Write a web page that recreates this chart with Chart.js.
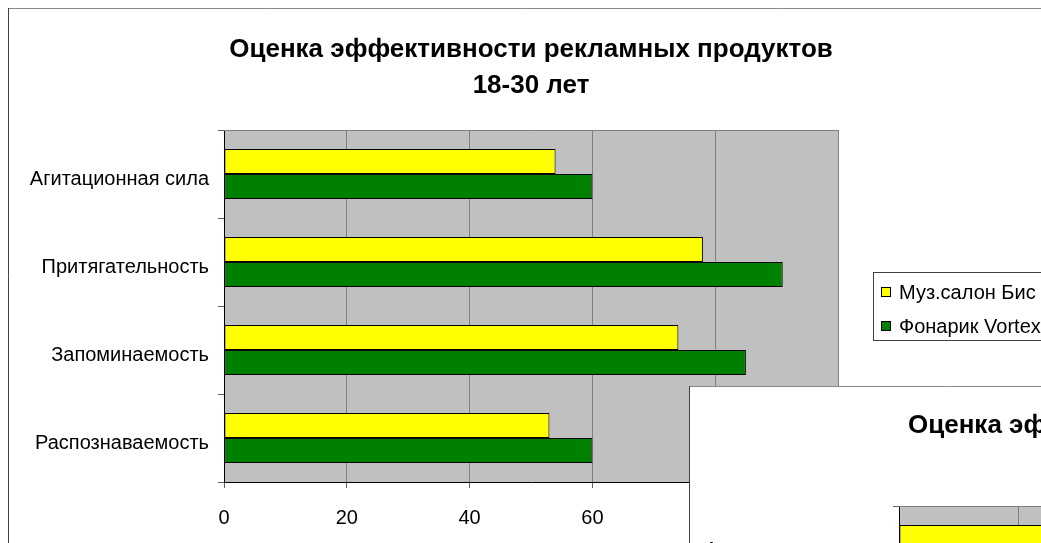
<!DOCTYPE html>
<html>
<head>
<meta charset="utf-8">
<script src="https://cdn.jsdelivr.net/npm/chart.js@4/dist/chart.umd.min.js"></script>
<style>
  html, body { margin: 0; padding: 0; background: #fff; overflow: hidden; width: 1041px; height: 543px; }
  #wrap { position: relative; width: 1041px; height: 543px; overflow: hidden; }
  #c1 { position: absolute; left: 0; top: 0; }
  #c2 { position: absolute; left: 681px; top: 378px; z-index: 2; }
</style>
</head>
<body>
<div id="wrap">
  <canvas id="c1" width="1041" height="543"></canvas>
  <canvas id="c2" width="1041" height="543"></canvas>
</div>
<script>
// ---- data (main chart) ----
const categories = ['Агитационная сила', 'Притягательность', 'Запоминаемость', 'Распознаваемость'];
const seriesNames = ['Муз.салон Бис', 'Фонарик Vortex'];
const musSalonValues = [54, 78, 74, 53];
const fonarikValues = [60, 91, 85, 60];
const titleLines = ['Оценка эффективности рекламных продуктов', '18-30 лет'];
const axisMin = 0;
const axisMax = 100;
const axisStep = 20;

// ---- data (overlapping second chart, only partly visible) ----
const overlayTitle = 'Оценка эффективности рекламных продуктов';
const overlayMusSalonValues = [62, 75, 70, 55];
const overlayFonarikValues = [58, 88, 80, 62];

const seriesColors = ['#ffff00', '#008000'];
const FONT = '"Liberation Sans", Arial, sans-serif';
Chart.defaults.font.family = FONT;
Chart.defaults.color = '#000';

function framePlugin(fillWhole) {
  return {
    id: 'frameBg',
    beforeDraw(chart) {
      const ctx = chart.ctx, W = chart.width, H = chart.height, a = chart.chartArea;
      ctx.save();
      ctx.clearRect(0, 0, W, H);
      if (fillWhole) { ctx.fillStyle = '#fff'; ctx.fillRect(0, 0, W, H); }
      ctx.fillStyle = '#fff';
      ctx.fillRect(8, 8, W - 8, H - 8);
      ctx.lineWidth = 1;
      ctx.strokeStyle = '#8a8a8a';
      ctx.beginPath(); ctx.moveTo(8, 8.5); ctx.lineTo(W, 8.5); ctx.stroke();
      ctx.strokeStyle = '#404040';
      ctx.beginPath(); ctx.moveTo(8.5, 8); ctx.lineTo(8.5, H); ctx.stroke();
      // plot area
      ctx.fillStyle = '#c0c0c0';
      ctx.fillRect(a.left, a.top, a.right - a.left, a.bottom - a.top);
      ctx.restore();
    },
    beforeDatasetsDraw(chart) {
      const ctx = chart.ctx, a = chart.chartArea;
      ctx.save();
      ctx.strokeStyle = '#808080';
      ctx.lineWidth = 1;
      ctx.beginPath(); ctx.moveTo(a.left, a.top + 0.5); ctx.lineTo(a.right + 1, a.top + 0.5); ctx.stroke();
      ctx.restore();
    }
  };
}

const legendPlugin = {
  id: 'boxLegend',
  afterDraw(chart) {
    const ctx = chart.ctx;
    ctx.save();
    ctx.fillStyle = '#fff';
    ctx.fillRect(873, 272, 220, 68);
    ctx.strokeStyle = '#404040';
    ctx.lineWidth = 1;
    ctx.strokeRect(873.5, 272.5, 220, 68);
    ctx.font = '20px ' + FONT;
    ctx.textBaseline = 'middle';
    chart.data.datasets.forEach((ds, i) => {
      const cy = 292 + i * 34;
      ctx.fillStyle = ds.backgroundColor;
      ctx.fillRect(881, cy - 5, 10, 10);
      ctx.strokeStyle = '#000';
      ctx.strokeRect(881.5, cy - 4.5, 9, 9);
      ctx.fillStyle = '#000';
      ctx.fillText(ds.label, 899, cy + 1);
    });
    ctx.restore();
  }
};

function makeDatasets(a, b) {
  return [
    { label: seriesNames[0], data: a, backgroundColor: seriesColors[0], borderColor: '#000', borderWidth: 1, borderSkipped: false, categoryPercentage: 50 / 88, barPercentage: 1 },
    { label: seriesNames[1], data: b, backgroundColor: seriesColors[1], borderColor: '#000', borderWidth: 1, borderSkipped: false, categoryPercentage: 50 / 88, barPercentage: 1 }
  ];
}

function makeScales(yWidth, labelOffset) {
  return {
    x: {
      type: 'linear', min: axisMin, max: axisMax,
      ticks: { stepSize: axisStep, color: '#000', font: { size: 20 }, padding: 18, maxRotation: 0 },
      grid: { color: '#808080', lineWidth: 1, drawTicks: true, tickLength: 6, tickColor: '#606060' },
      border: { display: true, color: '#000', width: 1 },
      afterFit(s) { s.height = 61; }
    },
    y: {
      type: 'category', offset: true,
      ticks: { color: '#000', font: { size: 20 }, padding: 9, labelOffset: labelOffset },
      grid: { offset: true, drawOnChartArea: false, drawTicks: true, tickLength: 6, color: '#606060' },
      border: { display: true, color: '#000', width: 1 },
      afterFit(s) { s.width = yWidth; }
    }
  };
}

// ---- main chart ----
new Chart(document.getElementById('c1'), {
  type: 'bar',
  data: { labels: categories, datasets: makeDatasets(musSalonValues, fonarikValues) },
  options: {
    indexAxis: 'y', responsive: false, animation: false,
    layout: { padding: { left: 8, right: 203, top: 0, bottom: 0 } },
    plugins: {
      legend: { display: false }, tooltip: { enabled: false },
      title: {
        display: true, text: titleLines, fullSize: false, color: '#000',
        font: { size: 26, weight: 'bold', lineHeight: 36 / 26 },
        padding: { top: 32, bottom: 26 }
      }
    },
    scales: makeScales(216, 5)
  },
  plugins: [framePlugin(true), legendPlugin]
});

// ---- overlapping second chart ----
const overlayTitlePlugin = {
  id: 'overlayTitle',
  afterDraw(chart) {
    const ctx = chart.ctx;
    ctx.save();
    ctx.font = 'bold 26px ' + FONT;
    ctx.fillStyle = '#000';
    ctx.textBaseline = 'middle';
    ctx.textAlign = 'left';
    ctx.fillText(overlayTitle, 227, 48);
    ctx.restore();
  }
};

new Chart(document.getElementById('c2'), {
  type: 'bar',
  data: { labels: categories, datasets: makeDatasets(overlayMusSalonValues, overlayFonarikValues) },
  options: {
    indexAxis: 'y', responsive: false, animation: false,
    layout: { padding: { left: 8, right: 228, top: 128, bottom: 0 } },
    plugins: { legend: { display: false }, tooltip: { enabled: false }, title: { display: false } },
    scales: makeScales(210, 0)
  },
  plugins: [framePlugin(false), overlayTitlePlugin]
});
</script>
</body>
</html>
